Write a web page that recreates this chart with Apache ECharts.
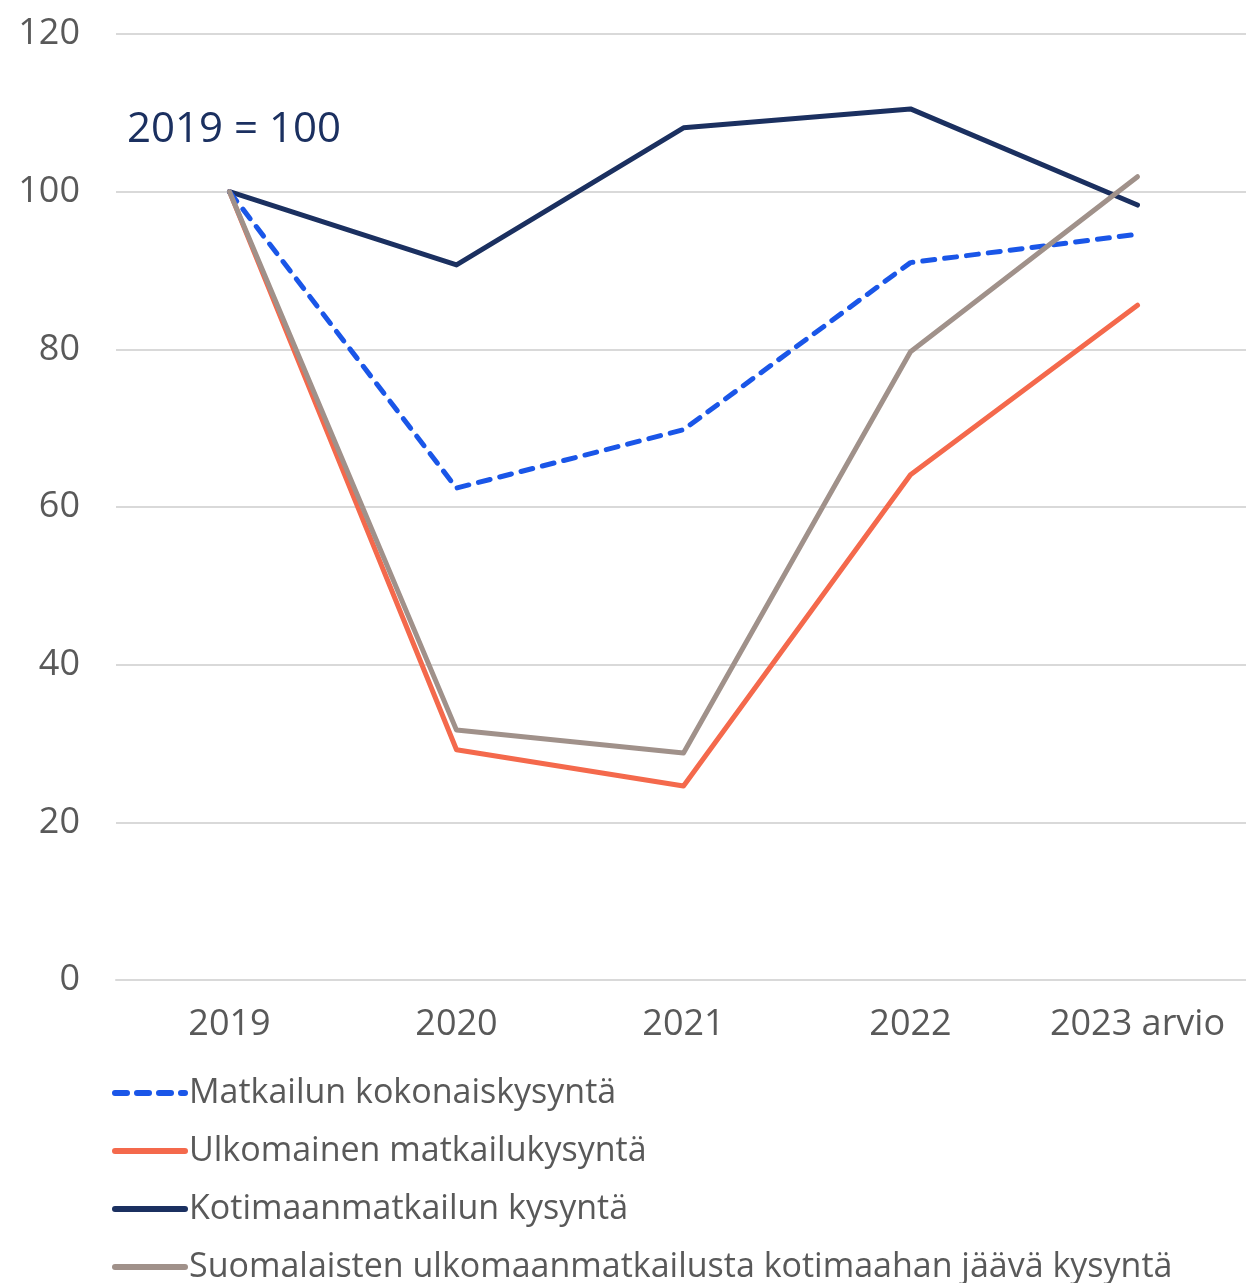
<!DOCTYPE html>
<html>
<head>
<meta charset="utf-8">
<script src="https://cdn.jsdelivr.net/npm/echarts@6/dist/echarts.min.js"></script>
<style>
  html, body { margin: 0; padding: 0; background: #fff; }
  #chart { width: 1246px; height: 1283px; }
</style>
</head>
<body>
<div id="chart"></div>
<script>
const years = ["2019", "2020", "2021", "2022", "2023 arvio"];
const kokonais = [100, 62.4, 69.8, 91.0, 94.6];
const ulkomainen = [100, 29.2, 24.6, 64.1, 85.6];
const kotimaan = [100, 90.7, 108.1, 110.5, 98.3];
const suomalaiset = [100, 31.7, 28.8, 79.7, 101.9];

const font = "'Open Sans', 'Liberation Sans', sans-serif";
const textColor = "#595959";

const chart = echarts.init(document.getElementById("chart"));

function line(name, data, color, dashed, z) {
  return {
    name: name,
    type: "line",
    data: data,
    symbol: "none",
    z: z,
    lineStyle: {
      color: color,
      width: 5,
      type: dashed ? [12, 10] : "solid",
      cap: "round",
      join: "round"
    },
    itemStyle: { color: color }
  };
}

chart.setOption({
  animation: false,
  grid: { left: 116, right: -5, top: 34, bottom: 303, outerBoundsMode: "none" },
  graphic: [{
    type: "text",
    left: 127,
    top: 109,
    style: {
      text: "2019 = 100",
      fill: "#1b3060",
      font: "42px " + font
    }
  }],
  legend: {
    orient: "vertical",
    left: 112,
    top: 1076,
    height: 240,
    padding: 0,
    itemWidth: 70,
    itemHeight: 14,
    itemGap: 24,
    itemStyle: { opacity: 0 },
    lineStyle: { width: 6 },
    textStyle: { color: textColor, fontSize: 34, lineHeight: 34, fontFamily: font, padding: [0, 0, 0, -1] },
    data: [
      "Matkailun kokonaiskysyntä",
      "Ulkomainen matkailukysyntä",
      "Kotimaanmatkailun kysyntä",
      "Suomalaisten ulkomaanmatkailusta kotimaahan jäävä kysyntä"
    ]
  },
  xAxis: {
    type: "category",
    data: years,
    boundaryGap: true,
    axisLine: { show: true, lineStyle: { color: "#d9d9d9", width: 2 } },
    axisTick: { show: false },
    axisLabel: { color: textColor, fontSize: 36, fontFamily: font, margin: 27, interval: 0 }
  },
  yAxis: {
    type: "value",
    min: 0,
    max: 120,
    interval: 20,
    axisLine: { show: false },
    axisTick: { show: false },
    axisLabel: { color: textColor, fontSize: 36, fontFamily: font, margin: 36 },
    splitLine: { lineStyle: { color: "#d9d9d9", width: 2 } }
  },
  series: [
    line("Ulkomainen matkailukysyntä", ulkomainen, "#f4694c", false, 2),
    line("Kotimaanmatkailun kysyntä", kotimaan, "#1b3060", false, 3),
    line("Matkailun kokonaiskysyntä", kokonais, "#1a56e8", true, 4),
    line("Suomalaisten ulkomaanmatkailusta kotimaahan jäävä kysyntä", suomalaiset, "#a0918a", false, 5)
  ]
});
</script>
</body>
</html>
